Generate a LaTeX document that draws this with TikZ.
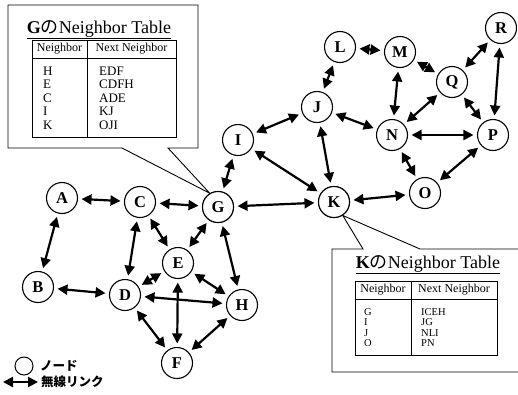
\documentclass[tikz,border=0pt]{standalone}
\usepackage{fontspec}
\setmainfont{Liberation Serif}
\newfontfamily\jp{Noto Sans CJK JP}
\usetikzlibrary{arrows.meta,calc}

\tikzset{
  nd/.style={circle, draw, fill=white, line width=1.1pt, minimum size=31pt, inner sep=0pt,
             font=\bfseries\fontsize{16.5}{16.5}\selectfont},
  lk/.style={line width=2.2pt, {Triangle[length=10pt,width=10pt]}-{Triangle[length=10pt,width=10pt]},
             shorten <=3.5pt, shorten >=3.5pt},
  callout/.style={line width=0.9pt, line join=miter},
  grid/.style={line width=0.9pt},
  ttl/.style={anchor=base, inner sep=0pt, font=\fontsize{18}{18}\selectfont},
  hdr/.style={inner sep=0pt, font=\fontsize{12}{12}\selectfont},
  gcol/.style={anchor=north west, inner sep=0pt, align=left, font=\fontsize{13}{13.5}\selectfont},
  kcol/.style={anchor=north west, inner sep=0pt, align=left, font=\fontsize{10.5}{10.2}\selectfont},
  lg/.style={anchor=west, inner sep=0pt, font=\jp\bfseries\fontsize{12.5}{12.5}\selectfont},
}

\begin{document}
\begin{tikzpicture}[x=1pt, y=-1pt]
\useasboundingbox (0,0) rectangle (518,394);

% ---- nodes of the network ----
\node[nd] (A) at (62,198) {A};
\node[nd] (B) at (38,287) {B};
\node[nd] (C) at (140,202) {C};
\node[nd] (D) at (125,295) {D};
\node[nd] (E) at (178,263) {E};
\node[nd] (F) at (177,363) {F};
\node[nd] (G) at (218,207) {G};
\node[nd] (H) at (242,305) {H};
\node[nd] (I) at (238,140) {I};
\node[nd] (J) at (317,107) {J};
\node[nd] (K) at (334,202) {K};
\node[nd] (L) at (340,47) {L};
\node[nd] (M) at (400,52) {M};
\node[nd] (N) at (392,135) {N};
\node[nd] (O) at (425,193) {O};
\node[nd] (P) at (493,135) {P};
\node[nd] (Q) at (452,82) {Q};
\node[nd] (R) at (501,28) {R};

% ---- callout of G ----
\draw[callout] (168,148) -- (198,148) -- (198,5) -- (8,5) -- (8,148) -- (122,148) -- (G.121) -- cycle;
\node[ttl] (gtitle) at (99,33) {\underline{\textbf{G}{\jp の}Neighbor Table}};
\draw[grid] (32,40) rectangle (176,137);
\draw[grid] (32,58) -- (176,58);
\draw[grid] (87,40) -- (87,137);
\node[hdr] (gh1) at (59.5,49) {Neighbor};
\node[hdr] (gh2) at (131.5,49) {Next Neighbor};
\node[gcol] (gcolA) at (43,66.5) {H\\E\\C\\I\\K};
\node[gcol] (gcolB) at (99,66.5) {EDF\\CDFH\\ADE\\KJ\\OJI};

% ---- callout of K ----
\draw[callout] (518,249) -- (420,249) -- (K.-57) -- (363,249) -- (332,249) -- (332,372) -- (518,372);
\node[ttl] (ktitle) at (428,268) {\underline{\textbf{K}{\jp の}Neighbor Table}};
\draw[grid] (355,281) rectangle (497,355);
\draw[grid] (355,299) -- (497,299);
\draw[grid] (411,281) -- (411,355);
\node[hdr] (kh1) at (383,290) {Neighbor};
\node[hdr] (kh2) at (454,290) {Next Neighbor};
\node[kcol] (kcolA) at (364,308.5) {G\\I\\J\\O};
\node[kcol] (kcolB) at (421,308.5) {ICEH\\JG\\NLI\\PN};

% redraw nodes on top of callout tails
\foreach \n in {G,K}{ \node[nd] at (\n) {\n}; }

% ---- wireless links ----
\foreach \u/\v in {A/C, A/B, C/G, C/E, C/D, B/D, D/E, D/H, D/F, E/G, E/H, E/F, G/H, F/H,
                   G/I, G/K, I/K, I/J, J/L, J/K, J/N, L/M, M/Q, M/N, N/Q, N/P, N/O,
                   Q/R, Q/P, R/P, P/O, K/O}{
  \draw[lk] (\u) -- (\v);
}

% ---- legend ----
\node[circle, draw, line width=1pt, minimum size=18pt, inner sep=0pt] (lgnode) at (24,366) {};
\node[lg] (lgnodetxt) at (40,366) {ノード};
\coordinate (lga) at (3,382);
\coordinate (lgb) at (38,382);
\draw[lk, shorten <=0pt, shorten >=0pt] (lga) -- (lgb);
\node[lg] (lglinktxt) at (41,382) {無線リンク};
\end{tikzpicture}
\end{document}
